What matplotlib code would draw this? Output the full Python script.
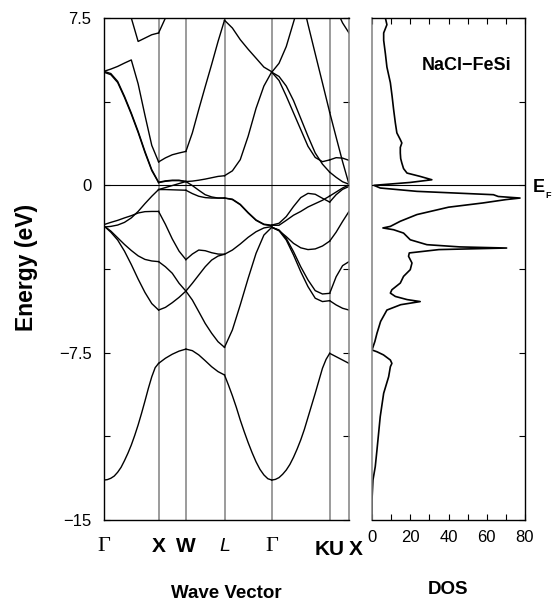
import matplotlib
matplotlib.use('Agg')
import matplotlib.pyplot as plt
from matplotlib.transforms import blended_transform_factory

plt.rcParams['font.family'] = ['Liberation Sans', 'DejaVu Sans']

# high-symmetry path (units of 2*pi/a)
k_points = [0.0, 1.0, 1.5, 2.2071, 3.0731, 4.1338, 4.4874]
k_labels = ['Γ', 'X', 'W', 'L', 'Γ', 'KU', 'X']

# ---- lowest (s-like) band, read on a finer grid ----
S_GX_frac = [0, 0.0625, 0.125, 0.1875, 0.25, 0.3125, 0.375, 0.4375, 0.5,
             0.5625, 0.625, 0.6875, 0.75, 0.8125, 0.875, 0.9375, 1.0]
S_GX = [-13.21, -13.19, -13.13, -13.03, -12.86, -12.64, -12.34, -12.01, -11.64,
        -11.21, -10.74, -10.22, -9.67, -9.10, -8.58, -8.17, -7.98]
S_XW_frac = [0, 0.25, 0.5, 0.75, 1.0]
S_XW = [-7.98, -7.75, -7.57, -7.43, -7.34]
S_WL_frac = [0, 0.167, 0.333, 0.5, 0.667, 0.833, 1.0]
S_WL = [-7.34, -7.41, -7.60, -7.86, -8.13, -8.35, -8.50]
S_LG_frac = [0, 0.0833, 0.1667, 0.25, 0.3333, 0.4167, 0.5, 0.5833, 0.6667,
             0.75, 0.8333, 0.9167, 1.0]
S_LG = [-8.50, -8.95, -9.43, -9.95, -10.52, -11.04, -11.53, -11.98, -12.39,
        -12.73, -12.98, -13.15, -13.21]
S_GK_frac = [0, 0.0625, 0.125, 0.1875, 0.25, 0.3125, 0.375, 0.4375, 0.5,
             0.5625, 0.625, 0.6875, 0.75, 0.8125, 0.875, 0.9375, 1.0]
S_GK = [-13.21, -13.18, -13.10, -12.95, -12.76, -12.51, -12.19, -11.82, -11.41,
        -10.94, -10.40, -9.86, -9.32, -8.76, -8.20, -7.80, -7.53]
S_KX_frac = [0, 0.333, 0.667, 1.0]
S_KX = [-7.53, -7.68, -7.83, -7.98]

# ---- other band energies (eV) read along each segment ----
GX_frac = [0, 0.125, 0.25, 0.375, 0.5, 0.625, 0.75, 0.875, 1.0]
GX_bands = [
    [-1.82, -2.10, -2.45, -2.95, -3.55, -4.20, -4.80, -5.30, -5.59],
    [-1.82, -2.05, -2.35, -2.65, -2.92, -3.16, -3.32, -3.39, -3.42],
    [-1.76, -1.66, -1.57, -1.46, -1.36, -1.24, -1.18, -1.17, -1.17],
    [-1.87, -1.84, -1.78, -1.66, -1.46, -1.17, -0.82, -0.49, -0.19],
    [5.11, 5.01, 4.66, 3.99, 3.24, 2.42, 1.52, 0.70, 0.14],
    [5.07, 4.96, 4.61, 3.94, 3.19, 2.37, 1.47, 0.66, 0.12],
    [5.11, 5.21, 5.33, 5.48, 5.62, 4.55, 3.14, 1.79, 1.05],
    [10.0, 9.5, 8.8, 8.1, 7.5, 6.45, 6.60, 6.75, 6.83],
]

XW_frac = [0, 0.25, 0.5, 0.75, 1.0]
XW_bands = [
    [-5.59, -5.47, -5.26, -5.02, -4.74],
    [-3.42, -3.65, -3.94, -4.39, -4.74],
    [-1.17, -1.75, -2.40, -2.95, -3.33],
    [-0.19, -0.19, -0.20, -0.21, -0.22],
    [-0.19, -0.10, -0.01, 0.08, 0.17],
    [0.14, 0.20, 0.23, 0.23, 0.17],
    [0.12, 0.18, 0.21, 0.21, 0.17],
    [1.05, 1.23, 1.37, 1.45, 1.52],
    [6.83, 7.5, 8.2, 8.8, 9.3],
]

WL_frac = [0, 0.167, 0.333, 0.5, 0.667, 0.833, 1.0]
WL_bands = [
    [-4.74, -5.14, -5.66, -6.19, -6.63, -7.01, -7.26],
    [-4.74, -4.39, -4.02, -3.65, -3.35, -3.17, -3.09],
    [-3.33, -3.08, -2.90, -2.93, -3.02, -3.08, -3.09],
    [-0.22, -0.37, -0.49, -0.55, -0.57, -0.57, -0.57],
    [0.17, -0.01, -0.22, -0.42, -0.52, -0.57, -0.57],
    [0.17, 0.19, 0.23, 0.28, 0.34, 0.40, 0.43],
    [1.52, 2.35, 3.40, 4.42, 5.42, 6.45, 7.40],
]

LG_frac = [0, 0.167, 0.333, 0.5, 0.667, 0.833, 1.0]
LG_bands = [
    [-7.26, -6.48, -5.36, -4.17, -3.05, -2.23, -1.88],
    [-3.09, -2.90, -2.63, -2.33, -2.08, -1.91, -1.85],
    [-0.57, -0.64, -0.87, -1.24, -1.57, -1.76, -1.81],
    [-0.57, -0.62, -0.85, -1.22, -1.55, -1.74, -1.79],
    [0.43, 0.65, 1.15, 2.20, 3.45, 4.45, 5.09],
    [7.40, 7.05, 6.53, 6.10, 5.70, 5.30, 5.09],
]

GK_frac = [0, 0.125, 0.25, 0.375, 0.5, 0.625, 0.75, 0.875, 1.0]
GK_bands = [
    [-1.88, -2.00, -2.38, -2.97, -3.65, -4.24, -4.72, -4.87, -4.84],
    [-1.88, -2.03, -2.45, -3.12, -3.87, -4.54, -5.06, -5.21, -5.17],
    [-1.88, -2.03, -2.30, -2.60, -2.80, -2.88, -2.85, -2.72, -2.50],
    [-1.78, -1.70, -1.40, -0.95, -0.55, -0.36, -0.40, -0.58, -0.75],
    [-1.79, -1.79, -1.57, -1.34, -1.17, -0.97, -0.82, -0.67, -0.48],
    [5.07, 4.70, 4.00, 3.25, 2.50, 1.75, 1.25, 1.06, 1.14],
    [5.07, 4.88, 4.45, 3.80, 3.00, 2.20, 1.45, 0.95, 0.59],
    [5.07, 5.47, 6.22, 7.31, 8.40, 9.00, 9.20, 9.00, 8.60],
    [11.2, 10.9, 10.5, 9.9, 8.6, 7.22, 5.90, 4.59, 3.27],
]

KX_frac = [0, 0.333, 0.667, 1.0]
KX_bands = [
    [-4.84, -4.10, -3.60, -3.42],
    [-5.17, -5.36, -5.51, -5.59],
    [-2.50, -2.10, -1.62, -1.17],
    [-0.75, -0.42, -0.18, -0.05],
    [-0.48, -0.30, -0.12, 0.02],
    [1.14, 1.24, 1.22, 1.12],
    [0.59, 0.36, 0.16, 0.05],
    [8.60, 7.90, 7.28, 6.83],
    [3.27, 2.16, 1.06, 0.05],
]

segments = [
    (0, GX_frac, GX_bands, S_GX_frac, S_GX),
    (1, XW_frac, XW_bands, S_XW_frac, S_XW),
    (2, WL_frac, WL_bands, S_WL_frac, S_WL),
    (3, LG_frac, LG_bands, S_LG_frac, S_LG),
    (4, GK_frac, GK_bands, S_GK_frac, S_GK),
    (5, KX_frac, KX_bands, S_KX_frac, S_KX),
]

# ---- density of states ----
dos_energy = [7.5, 7.2, 6.83, 6.5, 5.9, 5.3, 4.6, 4.0, 3.4, 2.8, 2.35, 2.05, 1.9, 1.7,
              1.45, 1.2, 1.0, 0.75, 0.55, 0.4, 0.25, 0.13, 0.0, -0.12, -0.27, -0.42,
              -0.50, -0.57, -0.64, -0.79, -0.98, -1.31, -1.61, -1.84, -1.91, -1.99,
              -2.14, -2.44, -2.66, -2.76, -2.81, -2.88, -3.03, -3.18, -3.48, -3.78,
              -4.08, -4.38, -4.68, -4.83, -4.98, -5.12, -5.21, -5.35, -5.59, -6.1,
              -6.63, -7.0, -7.38, -7.46, -7.6, -7.83, -7.98, -8.13, -8.58, -9.32,
              -10.37, -11.86, -12.61, -13.21, -14.1, -15.0]
dos_values = [7.0, 7.8, 6.1, 6.1, 7.0, 7.8, 9.6, 10.5, 11.3, 12.2, 13.0, 14.8, 15.6, 14.8,
              14.8, 15.0, 15.6, 16.5, 18.3, 25.2, 31.3, 20.0, 1.0, 4.3, 23.5, 63.5,
              66.0, 77.4, 70.0, 58.0, 40.0, 23.5, 14.8, 9.6, 5.7, 11.3,
              16.5, 20.0, 28.7, 46.0, 70.4, 35.0, 19.5, 19.1, 20.9, 20.0,
              16.5, 14.8, 10.4, 9.6, 12.2, 18.3, 25.2, 15.0, 7.8, 4.5,
              2.6, 1.5, 0.0, 2.6, 6.0, 9.6, 10.4, 9.6, 8.7, 6.1,
              4.3, 2.6, 1.7, 0.5, 0.0, 0.0]

energy_major = [-15, -7.5, 0, 7.5]
energy_major_labels = ['\u221215', '\u22127.5', '0', '7.5']
energy_minor = [-11.25, -3.75, 3.75]
dos_major = [0, 20, 40, 60, 80]
dos_minor = [10, 30, 50, 70]

GRAY = '#808080'

fig = plt.figure(figsize=(5.52, 6.07), dpi=100)
ax = fig.add_axes([104 / 552, 1 - 520 / 607, 245 / 552, 502 / 607])
ax2 = fig.add_axes([372 / 552, 1 - 520 / 607, 153 / 552, 502 / 607])

# ---- band panel ----
for kp in k_points[1:-1]:
    ax.axvline(kp, color=GRAY, lw=1.1, zorder=1)
for idx, frac, bands, sfrac, sband in segments:
    k0, k1 = k_points[idx], k_points[idx + 1]
    ks = [k0 + f * (k1 - k0) for f in frac]
    for b in bands:
        ax.plot(ks, b, color='black', lw=1.0, zorder=2, solid_joinstyle='round')
    sks = [k0 + f * (k1 - k0) for f in sfrac]
    ax.plot(sks, sband, color='black', lw=1.0, zorder=2, solid_joinstyle='round')
ax.axhline(0, color='black', lw=0.8, zorder=3)

ax.set_xlim(k_points[0], k_points[-1])
ax.set_ylim(-15, 7.5)
ax.set_xticks([])
ax.set_yticks(energy_major)
ax.set_yticklabels(energy_major_labels)
ax.set_yticks(energy_minor, minor=True)
ax.tick_params(axis='y', which='both', direction='in', left=True, right=True,
               length=4, width=0.8, labelsize=12, pad=9)
for s in ['left', 'top', 'bottom']:
    ax.spines[s].set_linewidth(1.0)
ax.spines['right'].set_color(GRAY)
ax.spines['right'].set_linewidth(1.1)

trans = blended_transform_factory(ax.transData, ax.transAxes)
label_y = -0.052
serif = ['Liberation Serif', 'DejaVu Serif']
ax.text(k_points[0], label_y, k_labels[0], transform=trans, ha='center', va='center',
        fontsize=16, family=serif)
ax.text(k_points[1], label_y, k_labels[1], transform=trans, ha='center', va='center',
        fontsize=15, fontweight='bold')
ax.text(k_points[2], label_y, k_labels[2], transform=trans, ha='center', va='center',
        fontsize=15, fontweight='bold')
ax.text(k_points[3], label_y, k_labels[3], transform=trans, ha='center', va='center',
        fontsize=14, style='italic')
ax.text(k_points[4], label_y, k_labels[4], transform=trans, ha='center', va='center',
        fontsize=16, family=serif)
ax.text(k_points[5], label_y - 0.006, k_labels[5], transform=trans, ha='center', va='center',
        fontsize=15, fontweight='bold')
ax.text(k_points[6] - 0.01, label_y - 0.006, k_labels[6], transform=trans, ha='left',
        va='center', fontsize=15, fontweight='bold')

# ---- DOS panel ----
ax2.plot(dos_values, dos_energy, color='black', lw=1.2, zorder=2)
ax2.axhline(0, color='black', lw=0.8, zorder=3)
ax2.set_xlim(0, 80)
ax2.set_ylim(-15, 7.5)
ax2.set_xticks(dos_major)
ax2.set_xticks(dos_minor, minor=True)
ax2.set_yticks(energy_major)
ax2.set_yticks(energy_minor, minor=True)
ax2.tick_params(axis='x', which='both', direction='in', top=True, bottom=True,
                length=4, width=0.8, labelsize=12, pad=7)
ax2.tick_params(axis='y', which='both', direction='in', left=False, right=True,
                labelleft=False, length=4, width=0.8)
for s in ['right', 'top', 'bottom']:
    ax2.spines[s].set_linewidth(1.0)
ax2.spines['left'].set_color(GRAY)
ax2.spines['left'].set_linewidth(1.1)

# ---- labels ----
fig.text(26 / 552, 1 - 267 / 607, 'Energy (eV)', rotation=90, ha='center', va='center',
         fontsize=16.5, fontweight='bold')
fig.text(226 / 552, 1 - 593 / 607, 'Wave Vector', ha='center', va='center',
         fontsize=13.5, fontweight='bold')
fig.text(448 / 552, 1 - 590 / 607, 'DOS', ha='center', va='center',
         fontsize=13.5, fontweight='bold')
fig.text(467 / 552, 1 - 65 / 607, 'NaCl\u2212FeSi', ha='center', va='center',
         fontsize=13, fontweight='bold')
fig.text(533 / 552, 1 - 187 / 607, 'E', ha='left', va='center',
         fontsize=13, fontweight='bold')
fig.text(545.5 / 552, 1 - 195 / 607, 'F', ha='left', va='center',
         fontsize=6.5, fontweight='bold')

fig.savefig('out.png', dpi=100)
